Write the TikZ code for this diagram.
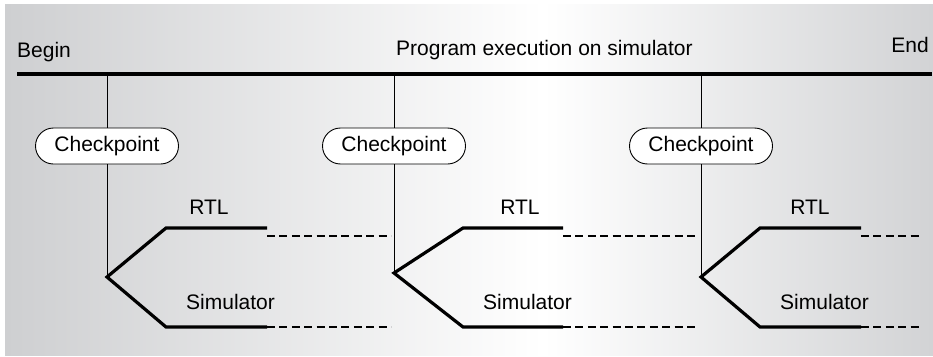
\documentclass[tikz,border=0pt]{standalone}
\usepackage{fontspec}
\setmainfont{Liberation Sans}
\usetikzlibrary{shapes.misc}

\definecolor{panelleft}{RGB}{206,207,209}
\definecolor{panelright}{RGB}{210,211,213}
% light in the middle, grey towards both edges
\pgfdeclarehorizontalshading{panelshade}{100bp}{%
  color(0bp)=(panelleft); color(25bp)=(panelleft);
  color(54bp)=(white);
  color(75bp)=(panelright); color(100bp)=(panelright)}

\begin{document}
\begin{tikzpicture}[x=1pt,y=-1pt,
  lbl/.style={inner sep=0pt, font=\fontsize{21}{25}\selectfont},
  cpbox/.style={rounded rectangle, draw, fill=white, line width=0.9pt,
    minimum width=143pt, minimum height=36pt, inner sep=0pt,
    font=\fontsize{21}{25}\selectfont},
  timeline/.style={line width=3.4pt},
  stem/.style={line width=1pt},
  branch/.style={line width=3.2pt, line join=miter},
  trail/.style={line width=1.1pt, dash pattern=on 8pt off 4.4pt}]

\useasboundingbox (0,0) rectangle (933,356);
\fill[shading=panelshade] (5,4) rectangle (933,355);

% main time line
\coordinate (tbegin) at (17,74);
\coordinate (tend) at (932,74);
\draw[timeline] (tbegin) -- (tend);
\node[lbl, anchor=base west] (beginlbl) at (17,57) {Begin};
\node[lbl, anchor=base west] (titlelbl) at (396,55) {Program execution on simulator};
\node[lbl, anchor=base east] (endlbl) at (929,52) {End};

% checkpoints: stem x / fork y / branch start / branch end / dash end / RTL label x / Simulator label x
\foreach \i/\sx/\vy/\bs/\be/\de/\rx/\lx in {
    1/107/277/166/267/391/209/186,
    2/394/273/463/563/697/520/483,
    3/701/277/760/861/919/810/780} {
  \coordinate (top\i) at (\sx,74);
  \coordinate (fork\i) at (\sx,\vy);
  \node[cpbox] (cp\i) at (\sx,146) {Checkpoint};
  \draw[stem] (top\i) -- (cp\i.north);
  \draw[stem] (cp\i.south) -- (fork\i);
  % the two branches leaving the fork
  \coordinate (rtla\i) at (\bs,228);
  \coordinate (rtlb\i) at (\be,228);
  \coordinate (sima\i) at (\bs,327);
  \coordinate (simb\i) at (\be,327);
  \draw[branch] (rtlb\i) -- (rtla\i) -- (fork\i) -- (sima\i) -- (simb\i);
  % continuation
  \coordinate (rtlc\i) at (\be,236);
  \coordinate (rtld\i) at (\de,236);
  \coordinate (simd\i) at (\de,327);
  \draw[trail] (rtlc\i) -- (rtld\i);
  \draw[trail] (simb\i) -- (simd\i);
  \node[lbl, anchor=base] (rtl\i) at (\rx,214) {RTL};
  \node[lbl, anchor=base west] (sim\i) at (\lx,309) {Simulator};
}
\end{tikzpicture}
\end{document}
